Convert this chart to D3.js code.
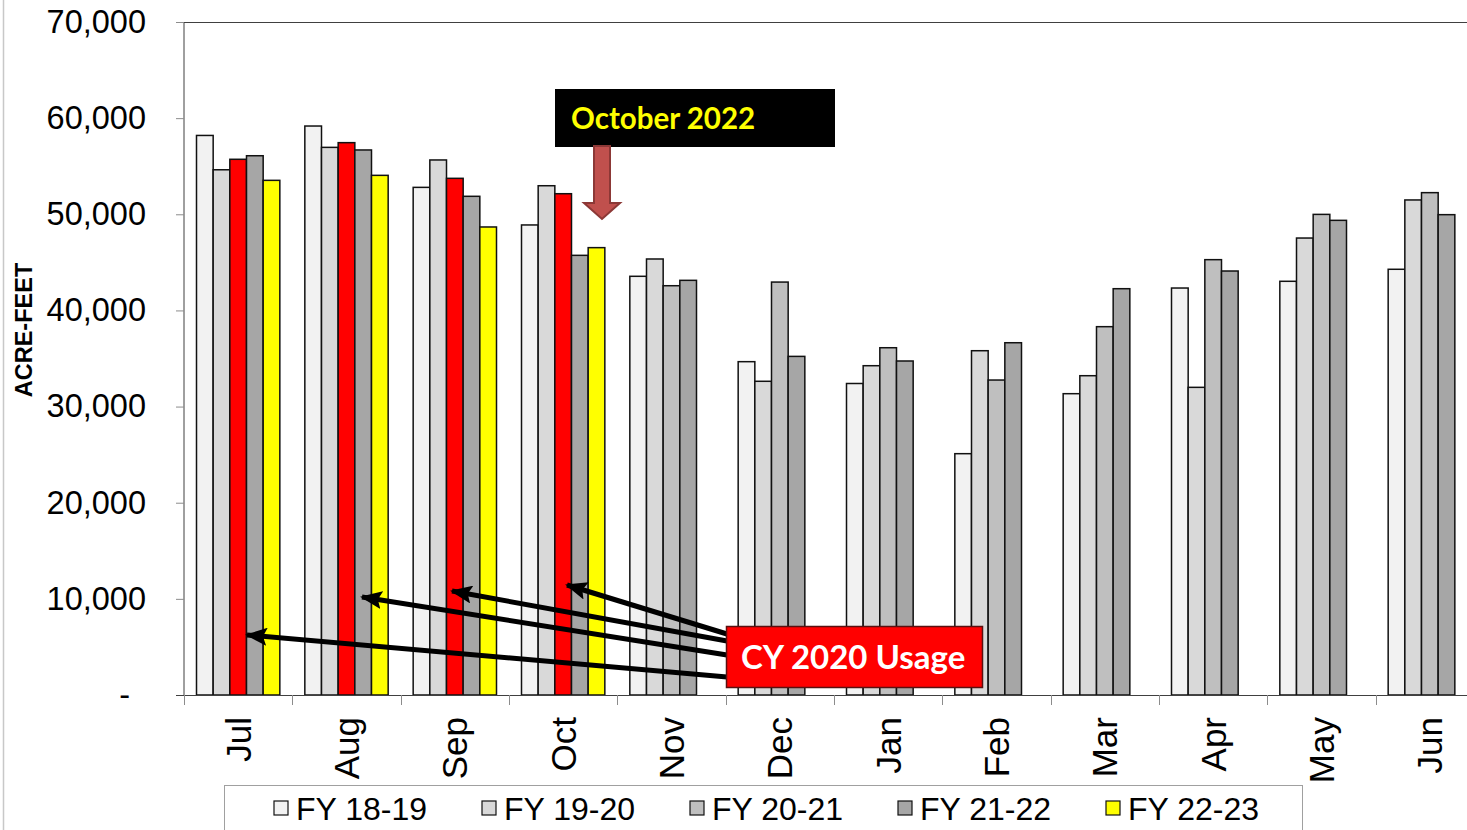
<!DOCTYPE html>
<html>
<head>
<meta charset="utf-8">
<script src="https://cdn.jsdelivr.net/npm/d3@7"></script>
<style>
  body { margin: 0; background: #fff; }
  svg { display: block; }
</style>
</head>
<body>
<div id="chart"></div>
<script>
'use strict';

// Chart data
var months = ['Jul', 'Aug', 'Sep', 'Oct', 'Nov', 'Dec', 'Jan', 'Feb', 'Mar', 'Apr', 'May', 'Jun'];
var seriesNames = ['FY 18-19', 'FY 19-20', 'FY 20-21', 'FY 21-22', 'FY 22-23'];
var seriesColors = ['#f2f2f2', '#d9d9d9', '#bfbfbf', '#a6a6a6', '#ffff00'];
var fy1819 = [58200, 59180, 52800, 48890, 43550, 34670, 32400, 25100, 31340, 42330, 43030, 44280];
var fy1920 = [54630, 56960, 55650, 52970, 45350, 32630, 34250, 35810, 33210, 32000, 47530, 51490];
var fy2021 = [55720, 57450, 53740, 52140, 42570, 42950, 36120, 32760, 38310, 45280, 49990, 52250];
var fy2122 = [56090, 56690, 51870, 45730, 43130, 35220, 34740, 36640, 42260, 44100, 49370, 49960];
var fy2223 = [53530, 54050, 48680, 46530, null, null, null, null, null, null, null, null];
var cy2020Months = ['Jul', 'Aug', 'Sep', 'Oct'];
var yTicks = [0, 10000, 20000, 30000, 40000, 50000, 60000, 70000];

var seriesValues = [fy1819, fy1920, fy2021, fy2122, fy2223];

var width = 1467, height = 830;
var plotLeft = 184, plotTop = 22, plotBottom = 695, plotRight = 1484;

var svg = d3.select('#chart').append('svg')
  .attr('width', width)
  .attr('height', height)
  .style('font-family', '"Liberation Sans", Arial, sans-serif');

var x0 = d3.scaleBand().domain(months).range([plotLeft, plotRight]);
var x1 = d3.scaleBand().domain(seriesNames).range([0, x0.bandwidth()])
  .paddingInner(0).paddingOuter(0.75);
var y = d3.scaleLinear().domain([0, 70000]).range([plotBottom, plotTop]);
var color = d3.scaleOrdinal().domain(seriesNames).range(seriesColors);

var rows = [];
months.forEach(function(m, i) {
  seriesNames.forEach(function(s, j) {
    var v = seriesValues[j][i];
    if (v != null) rows.push({ month: m, series: s, value: v });
  });
});

// thin frame line at the left edge of the picture
svg.append('line')
  .attr('x1', 3.5).attr('x2', 3.5).attr('y1', 0).attr('y2', height)
  .attr('stroke', '#c8c8c8').attr('stroke-width', 1.5);

// top border of the plot
svg.append('line')
  .attr('x1', plotLeft).attr('x2', width).attr('y1', plotTop + 0.5).attr('y2', plotTop + 0.5)
  .attr('stroke', '#404040').attr('stroke-width', 1);

// bars
svg.append('g').selectAll('rect')
  .data(rows)
  .join('rect')
  .attr('x', function(d) { return x0(d.month) + x1(d.series); })
  .attr('y', function(d) { return y(d.value); })
  .attr('width', x1.bandwidth())
  .attr('height', function(d) { return y(0) - y(d.value); })
  .attr('fill', function(d) {
    if (d.series == 'FY 20-21' && cy2020Months.indexOf(d.month) >= 0) return '#ff0000';
    return color(d.series);
  })
  .attr('stroke', '#111')
  .attr('stroke-width', 1.5);

// y axis
var yAxis = d3.axisLeft(y)
  .tickValues(yTicks)
  .tickSize(8)
  .tickPadding(30)
  .tickFormat(function(d) { return d == 0 ? '-' : d3.format(',')(d); });
var gy = svg.append('g').attr('transform', 'translate(' + plotLeft + ',0)').call(yAxis);
gy.select('.domain').attr('stroke', '#404040').attr('d', 'M0,' + plotTop + 'V' + plotBottom);
gy.selectAll('.tick line').attr('stroke', '#8c8c8c');
gy.selectAll('.tick text')
  .style('font-size', '32.5px')
  .style('font-family', '"Liberation Sans", Arial, sans-serif')
  .attr('fill', '#000');
// accounting-style dash for zero sits a little left of the digits
gy.selectAll('.tick text')
  .filter(function(d) { return d == 0; })
  .attr('x', -54);

// x axis
var boundaries = months.map(function(m) { return x0(m); });
var gx = svg.append('g');
gx.append('line')
  .attr('x1', plotLeft - 8).attr('x2', width).attr('y1', plotBottom + 0.5).attr('y2', plotBottom + 0.5)
  .attr('stroke', '#404040');
gx.selectAll('line.tick')
  .data(boundaries)
  .join('line')
  .attr('class', 'tick')
  .attr('x1', function(d) { return Math.round(d) + 0.5; })
  .attr('x2', function(d) { return Math.round(d) + 0.5; })
  .attr('y1', plotBottom).attr('y2', plotBottom + 10)
  .attr('stroke', '#8c8c8c');
gx.selectAll('text')
  .data(months)
  .join('text')
  .attr('transform', function(d) {
    return 'translate(' + (x0(d) + x0.bandwidth() / 2) + ',' + (plotBottom + 22) + ') rotate(-90)';
  })
  .attr('text-anchor', 'end')
  .attr('dy', '0.36em')
  .style('font-size', '35px')
  .text(function(d) { return d; });

// y axis title
svg.append('text')
  .attr('transform', 'translate(24,' + 330 + ') rotate(-90)')
  .attr('text-anchor', 'middle')
  .attr('dy', '0.36em')
  .style('font-size', '23.5px')
  .style('font-weight', 'bold')
  .text('ACRE-FEET');

// legend
var legend = svg.append('g');
legend.append('rect')
  .attr('x', 224.5).attr('y', 785.5).attr('width', 1078).attr('height', 60)
  .attr('fill', '#fff').attr('stroke', '#a0a0a0');
var item = legend.selectAll('g.item')
  .data(seriesNames)
  .join('g')
  .attr('class', 'item')
  .attr('transform', function(d, i) { return 'translate(' + (274 + i * 208) + ',808)'; });
item.append('rect')
  .attr('x', 0).attr('y', -7).attr('width', 14).attr('height', 14)
  .attr('fill', function(d) { return color(d); })
  .attr('stroke', '#111').attr('stroke-width', 1.2);
item.append('text')
  .attr('x', 22).attr('dy', '0.36em')
  .style('font-size', '32px')
  .text(function(d) { return d; });

// "October 2022" callout
svg.append('rect')
  .attr('x', 555).attr('y', 89).attr('width', 280).attr('height', 58)
  .attr('fill', '#000');
svg.append('text')
  .attr('x', 571).attr('y', 118).attr('dy', '0.36em')
  .style('font-family', 'Lato, "Open Sans", sans-serif')
  .style('font-weight', 'bold')
  .style('font-size', '29.5px')
  .attr('fill', '#ffff00')
  .text('October 2022');
var ax = 602;
svg.append('path')
  .attr('d', d3.line()([[ax - 8, 146], [ax + 8, 146], [ax + 8, 203], [ax + 18, 203],
    [ax, 219], [ax - 18, 203], [ax - 8, 203]]) + 'Z')
  .attr('fill', '#c0504d').attr('stroke', '#8c3836').attr('stroke-width', 2);

// "CY 2020 Usage" callout with arrows to the red bars
var defs = svg.append('defs');
defs.append('marker')
  .attr('id', 'head')
  .attr('markerUnits', 'userSpaceOnUse')
  .attr('viewBox', '0 0 22 18')
  .attr('refX', 20).attr('refY', 9)
  .attr('markerWidth', 22).attr('markerHeight', 18)
  .attr('orient', 'auto')
  .append('path').attr('d', 'M0,0L22,9L0,18L4,9Z').attr('fill', '#000');

var arrows = [
  [[727, 677], [247, 635]],
  [[727, 655], [362, 597]],
  [[727, 641], [452, 591]],
  [[727, 634], [567, 585]]
];
svg.append('g').selectAll('line')
  .data(arrows)
  .join('line')
  .attr('x1', function(d) { return d[0][0]; })
  .attr('y1', function(d) { return d[0][1]; })
  .attr('x2', function(d) { return d[1][0]; })
  .attr('y2', function(d) { return d[1][1]; })
  .attr('stroke', '#000').attr('stroke-width', 5)
  .attr('marker-end', 'url(#head)');

svg.append('rect')
  .attr('x', 726.5).attr('y', 626.5).attr('width', 256).attr('height', 61)
  .attr('fill', '#ff0000').attr('stroke', '#5a1010').attr('stroke-width', 1.5);
svg.append('text')
  .attr('x', 741).attr('y', 657).attr('dy', '0.36em')
  .style('font-family', 'Lato, "Open Sans", sans-serif')
  .style('font-weight', 'bold')
  .style('font-size', '33px')
  .attr('fill', '#fff')
  .text('CY 2020 Usage');
</script>
</body>
</html>
